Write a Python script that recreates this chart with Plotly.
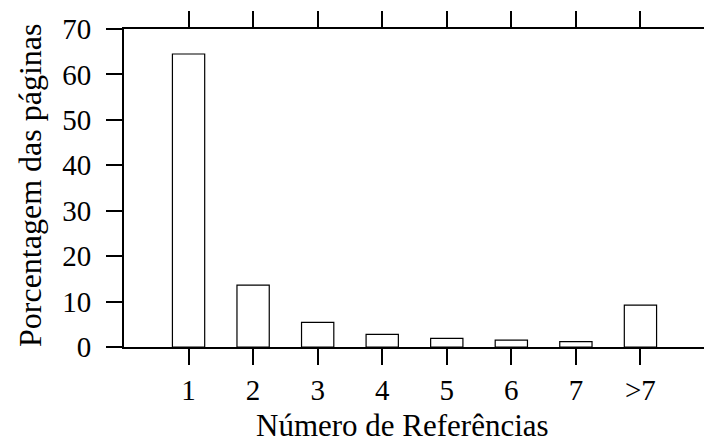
import plotly.graph_objects as go

categories = ["1", "2", "3", "4", "5", "6", "7", ">7"]
percent = [64.5, 13.6, 5.4, 2.8, 1.9, 1.5, 1.2, 9.2]
y_ticks = [0, 10, 20, 30, 40, 50, 60, 70]

FONT = "Liberation Serif, serif"

# the page body has an 8px default margin; size the figure to fit the window
OFF = 8

fig = go.Figure(
    go.Bar(
        x=categories,
        y=percent,
        width=0.5,
        marker=dict(color="white", line=dict(color="black", width=1.2)),
    )
)

axis_common = dict(
    showline=True,
    linecolor="black",
    linewidth=2,
    mirror="ticks",
    ticks="outside",
    ticklen=16,
    tickwidth=2,
    tickcolor="black",
    showgrid=False,
    zeroline=False,
    automargin=False,
    tickfont=dict(family=FONT, size=29, color="black"),
)

fig.update_xaxes(
    type="category",
    range=[-1, 8],
    ticklabelstandoff=0,
    **axis_common,
)
fig.update_yaxes(
    range=[0, 70],
    tickvals=y_ticks,
    ticklabelstandoff=9,
    **axis_common,
)

L, T, R, B = 124 - OFF, 29 - OFF, 7, 97
W, H = 712 - OFF, 444 - OFF
plot_w = W - L - R
plot_h = H - T - B

fig.update_layout(
    width=W,
    height=H,
    margin=dict(l=L, r=R, t=T, b=B),
    plot_bgcolor="white",
    paper_bgcolor="white",
    showlegend=False,
    font=dict(family=FONT, color="black"),
    annotations=[
        dict(
            text="Número de Referências",
            xref="paper", yref="paper",
            x=(402 - 124) / plot_w, y=0,
            xanchor="center", yanchor="middle",
            yshift=-78,
            borderpad=0,
            showarrow=False,
            font=dict(family=FONT, size=31, color="black"),
        ),
        dict(
            text="Porcentagem das páginas",
            xref="paper", yref="paper",
            x=0, y=(347 - 186) / plot_h,
            xanchor="center", yanchor="middle",
            xshift=30 - 124,
            textangle=-90,
            showarrow=False,
            font=dict(family=FONT, size=32, color="black"),
        ),
    ],
)

fig.write_html("out.html")
